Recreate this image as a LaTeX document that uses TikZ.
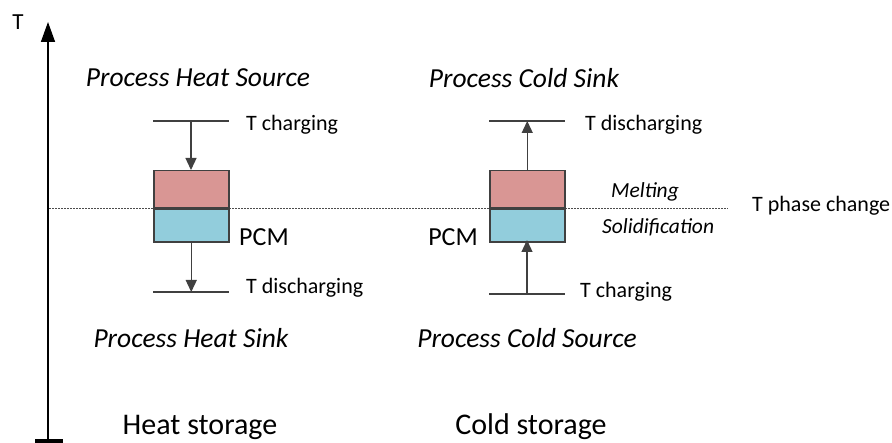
\documentclass[tikz,border=0pt]{standalone}
\usepackage{fontspec}
\setmainfont{Carlito}
\usetikzlibrary{arrows.meta}
\definecolor{meltred}{HTML}{D99694}
\definecolor{solidblue}{HTML}{92CDDC}
\definecolor{edgegray}{HTML}{404040}
\tikzset{
  level/.style={draw=edgegray, line width=1.2pt},
  flow/.style={draw=edgegray, line width=1.3pt, -{Triangle[length=12pt,width=11pt]}},
  pcmhot/.style={draw=edgegray, line width=1.5pt, fill=meltred, minimum width=75pt, minimum height=37pt, inner sep=0pt},
  pcmcold/.style={draw=edgegray, line width=1.5pt, fill=solidblue, minimum width=75pt, minimum height=33pt, inner sep=0pt},
  proc/.style={font=\fontsize{27.5}{30}\selectfont\itshape},
  tlabel/.style={font=\fontsize{22}{24}\selectfont, anchor=west, inner sep=0pt},
  phase/.style={font=\fontsize{21.5}{23}\selectfont\itshape, inner sep=0pt},
  title/.style={font=\fontsize{30}{33}\selectfont, inner sep=0pt},
}
\begin{document}
\begin{tikzpicture}[x=1pt,y=-1pt]
\useasboundingbox (0,0) rectangle (892,443);

% temperature axis
\coordinate (axtop) at (48,22);
\coordinate (axbot) at (48,441);
\draw[line width=1.5pt, -{Triangle[length=20pt,width=14pt]}] (axbot) -- (axtop);
\draw[line width=4pt] (35,441) -- (63,441);
\node[font=\fontsize{23}{25}\selectfont, inner sep=0pt] (tax) at (18,22) {T};

% phase change level
\coordinate (pcstart) at (49,208.5);
\coordinate (pcend) at (728,208.5);
\draw[black!70, line width=1.4pt, dash pattern=on 1.6pt off 1.4pt] (pcstart) -- (pcend);
\node[tlabel] (tpc) at (752,206) {T phase change};

% ---- heat storage ----
\node[proc] (hsrc) at (198,78) {Process Heat Source};
\coordinate (hcl) at (153,121);
\coordinate (hcr) at (229,121);
\draw[level] (hcl) -- (hcr) coordinate[pos=0.5] (hcm);
\node[pcmhot, anchor=south west] (hhot) at (153,208.5) {};
\node[pcmcold, anchor=north west] (hcold) at (153,208.5) {};
\coordinate (hdl) at (153,292);
\coordinate (hdr) at (229,292);
\draw[level] (hdl) -- (hdr) coordinate[pos=0.5] (hdm);
\draw[flow] (hcm) -- (hcm |- hhot.north);
\draw[flow] (hcold.south) -- (hcold.south |- hdm);
\node[tlabel] (hct) at (246,125) {T charging};
\node[tlabel, font=\fontsize{26}{28}\selectfont] (hpcm) at (239,237) {PCM};
\node[tlabel] (hdt) at (246,288) {T discharging};
\node[proc] (hsnk) at (191,338) {Process Heat Sink};
\node[title] (htitle) at (200,427) {Heat storage};

% ---- cold storage ----
\node[proc] (csnk) at (524,78) {Process Cold Sink};
\coordinate (cdl) at (489,121);
\coordinate (cdr) at (565,121);
\draw[level] (cdl) -- (cdr) coordinate[pos=0.5] (cdm);
\node[pcmhot, anchor=south west] (chot) at (489,208.5) {};
\node[pcmcold, anchor=north west] (ccold) at (489,208.5) {};
\coordinate (ccl) at (489,294);
\coordinate (ccr) at (565,294);
\draw[level] (ccl) -- (ccr) coordinate[pos=0.5] (ccm);
\coordinate (cgap) at ([yshift=3pt]ccold.south);
\draw[flow] (chot.north) -- (chot.north |- cdm);
\draw[flow] (ccm) -- (ccm |- cgap);
\node[tlabel] (cdt) at (585,125) {T discharging};
\node[tlabel, anchor=east, font=\fontsize{26}{28}\selectfont] (cpcm) at (478,237) {PCM};
\node[tlabel] (cct) at (580,292) {T charging};
\node[phase] (melt) at (645,192) {Melting};
\node[phase, anchor=west] (solid) at (602,227) {Solidification};
\node[proc] (csrc) at (527,338) {Process Cold Source};
\node[title] (ctitle) at (531,427) {Cold storage};
\end{tikzpicture}
\end{document}
